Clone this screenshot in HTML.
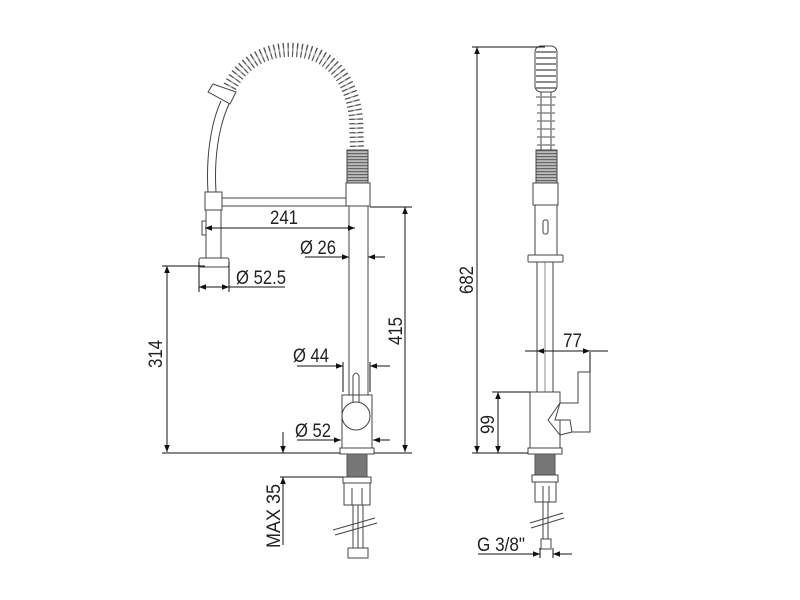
<!DOCTYPE html>
<html><head><meta charset="utf-8"><style>
html,body{margin:0;padding:0;background:#fff}
svg{display:block}
text{font-family:"Liberation Sans",sans-serif;font-size:19px;fill:#222}
</style></head><body>
<svg width="800" height="600" viewBox="0 0 800 600" xmlns="http://www.w3.org/2000/svg">
<defs>
<marker id="a" viewBox="0 0 10 10" refX="10" refY="5" markerWidth="10" markerHeight="7" orient="auto-start-reverse" markerUnits="userSpaceOnUse"><path d="M0,1 L10,5 L0,9z" fill="#111"/></marker>
<pattern id="th" width="3" height="3" patternUnits="userSpaceOnUse"><rect width="3" height="3" fill="#bbb"/><rect width="3" height="1.2" fill="#666"/></pattern>
</defs>
<g fill="none" stroke="#444" stroke-width="1">
<path d="M226,95 C240,60 270,48 295,50 C330,52 352,80 356,118 L357,150" stroke="#555" stroke-width="14" stroke-dasharray="1.3 3.2"/>
<path d="M226,95 C240,60 270,48 295,50 C330,52 352,80 356,118 L357,150" stroke="#aaa" stroke-width="3" stroke-dasharray="1.3 3.2"/>
<path d="M208,92 L213,84 L236,92 L230,104 Z" fill="#fff"/>
<path d="M221,101 C210,125 206,160 208,192"/>
<path d="M229,104 C218,128 214,160 216,192"/>
<rect x="205" y="192" width="17" height="18" fill="#fff"/>
<rect x="206" y="210" width="15" height="48" fill="#fff"/>
<rect x="202" y="221" width="4" height="14"/>
<rect x="199" y="258" width="30" height="9" rx="2" fill="#fff"/>
<rect x="222" y="198" width="126" height="8" fill="#fff"/>
<rect x="347" y="150" width="21" height="33" fill="url(#th)"/>
<rect x="346" y="183" width="24" height="23" fill="#fff"/>
<line x1="349" y1="206" x2="349" y2="395"/><line x1="368" y1="206" x2="368" y2="395"/>
<path d="M353,402 L353,376 Q356,370 359,376 L359,402"/>
<circle cx="356" cy="416" r="14" fill="#fff"/>
<rect x="342" y="395" width="30" height="53"/>
<rect x="340" y="448" width="34" height="6"/>
<rect x="347" y="454" width="20" height="23" fill="#777" stroke="#555"/>
<rect x="343" y="477" width="28" height="6" fill="#fff"/>
<rect x="344" y="483" width="26" height="22" fill="#fff"/>
<line x1="352" y1="488" x2="352" y2="505"/><line x1="362" y1="488" x2="362" y2="505"/>
<line x1="353" y1="505" x2="353" y2="550"/><line x1="358" y1="505" x2="358" y2="550"/><line x1="363" y1="505" x2="363" y2="550"/>
<line x1="333" y1="530" x2="375" y2="518"/><line x1="335" y1="535" x2="377" y2="523"/>
<rect x="348" y="548" width="20" height="10" fill="#fff"/>
<!-- RIGHT VIEW -->
<rect x="535" y="46" width="22" height="46" rx="6" fill="#fff"/>
<path d="M536,52 L556,52 M536,58 L556,58 M536,64 L556,64 M536,70 L556,70 M536,76 L556,76 M536,82 L556,82 M536,88 L556,88" stroke="#666" stroke-width="1.5"/>
<path d="M541,92 L541,150 M551,92 L551,150"/>
<path d="M536,97 L556,97 M537,105 L555,105 M537,113 L555,113 M537,121 L555,121 M537,129 L555,129 M537,137 L555,137 M537,145 L555,145" stroke="#888" stroke-width="1.5"/>
<rect x="536" y="150" width="21" height="33" fill="url(#th)"/>
<rect x="533" y="183" width="25" height="22" fill="#fff"/>
<rect x="535" y="205" width="22" height="50" fill="#fff"/>
<rect x="543" y="220" width="5" height="14" rx="2"/>
<rect x="528" y="255" width="35" height="7" rx="1"/>
<line x1="537" y1="262" x2="537" y2="392"/><line x1="553" y1="262" x2="553" y2="392"/>
<line x1="545" y1="262" x2="545" y2="448" stroke-width="0.6"/>
<rect x="530" y="392" width="30" height="56" fill="#fff"/>
<path d="M560,403 L578,403 L578,372 L590,372 L590,432 L572,432 L570,420 L555,420 Z" fill="#fff"/>
<path d="M560,403 L548,420 L560,435 L572,432"/>
<rect x="528" y="448" width="34" height="6"/>
<rect x="535" y="454" width="20" height="21" fill="#777" stroke="#555"/>
<rect x="532" y="475" width="26" height="7" fill="#fff"/>
<rect x="535" y="482" width="21" height="20" fill="#fff"/>
<line x1="543" y1="486" x2="543" y2="502"/><line x1="549" y1="486" x2="549" y2="502"/>
<line x1="543" y1="502" x2="543" y2="540"/><line x1="548" y1="502" x2="548" y2="540"/>
<line x1="530" y1="523" x2="563" y2="513"/><line x1="531" y1="528" x2="564" y2="518"/>
<rect x="541" y="539" width="10" height="10" fill="#fff"/>
</g>
<g stroke="#111" stroke-width="1" fill="none">
<line x1="205" y1="228" x2="355" y2="228" marker-start="url(#a)" marker-end="url(#a)"/>
<line x1="305" y1="257" x2="349" y2="257" marker-end="url(#a)"/><line x1="385" y1="257" x2="368" y2="257" marker-end="url(#a)"/>
<line x1="199" y1="262" x2="199" y2="292"/><line x1="229" y1="262" x2="229" y2="292"/>
<line x1="199" y1="287" x2="229" y2="287" marker-start="url(#a)" marker-end="url(#a)"/><line x1="229" y1="287" x2="285" y2="287"/>
<line x1="162" y1="266" x2="205" y2="266"/>
<line x1="167" y1="266" x2="167" y2="452" marker-start="url(#a)" marker-end="url(#a)"/>
<line x1="370" y1="207" x2="412" y2="207"/>
<line x1="405" y1="207" x2="405" y2="452" marker-start="url(#a)" marker-end="url(#a)"/>
<line x1="343" y1="362" x2="343" y2="392"/><line x1="370" y1="362" x2="370" y2="392"/>
<line x1="297" y1="366" x2="343" y2="366" marker-end="url(#a)"/><line x1="390" y1="366" x2="370" y2="366" marker-end="url(#a)"/>
<line x1="297" y1="440" x2="341" y2="440" marker-end="url(#a)"/><line x1="390" y1="440" x2="373" y2="440" marker-end="url(#a)"/>
<line x1="162" y1="453" x2="340" y2="453"/><line x1="374" y1="453" x2="412" y2="453"/>
<line x1="283" y1="432" x2="283" y2="453" marker-end="url(#a)"/>
<line x1="283" y1="545" x2="283" y2="477" marker-end="url(#a)"/>
<line x1="280" y1="477" x2="343" y2="477"/>
<line x1="472" y1="47" x2="545" y2="47"/>
<line x1="477" y1="47" x2="477" y2="453" marker-start="url(#a)" marker-end="url(#a)"/>
<line x1="472" y1="453" x2="528" y2="453"/>
<line x1="492" y1="392" x2="530" y2="392"/>
<line x1="498" y1="392" x2="498" y2="453" marker-start="url(#a)" marker-end="url(#a)"/>
<line x1="590" y1="352" x2="590" y2="372"/>
<line x1="525" y1="351" x2="537" y2="351"/>
<line x1="537" y1="351" x2="590" y2="351" marker-start="url(#a)" marker-end="url(#a)"/>
<line x1="608" y1="351" x2="590" y2="351"/>
<line x1="540" y1="548" x2="540" y2="558"/><line x1="553" y1="548" x2="553" y2="558"/>
<line x1="478" y1="554" x2="540" y2="554" marker-end="url(#a)"/><line x1="572" y1="554" x2="553" y2="554" marker-end="url(#a)"/>
</g>
<g>
<text x="270" y="224" textLength="28" lengthAdjust="spacingAndGlyphs">241</text>
<text x="300" y="254" textLength="36" lengthAdjust="spacingAndGlyphs">Ø 26</text>
<text x="236" y="284" textLength="50" lengthAdjust="spacingAndGlyphs">Ø 52.5</text>
<text x="293" y="362" textLength="36" lengthAdjust="spacingAndGlyphs">Ø 44</text>
<text x="295" y="437" textLength="36" lengthAdjust="spacingAndGlyphs">Ø 52</text>
<text transform="translate(162,368) rotate(-90)" textLength="28" lengthAdjust="spacingAndGlyphs">314</text>
<text transform="translate(402,345) rotate(-90)" textLength="28" lengthAdjust="spacingAndGlyphs">415</text>
<text transform="translate(280,548) rotate(-90)" textLength="64" lengthAdjust="spacingAndGlyphs">MAX 35</text>
<text transform="translate(473,294) rotate(-90)" textLength="28" lengthAdjust="spacingAndGlyphs">682</text>
<text transform="translate(494,434) rotate(-90)" textLength="19" lengthAdjust="spacingAndGlyphs">99</text>
<text x="563" y="347" textLength="19" lengthAdjust="spacingAndGlyphs">77</text>
<text x="477" y="551" textLength="48" lengthAdjust="spacingAndGlyphs">G 3/8"</text>
</g>
</svg>
</body></html>
